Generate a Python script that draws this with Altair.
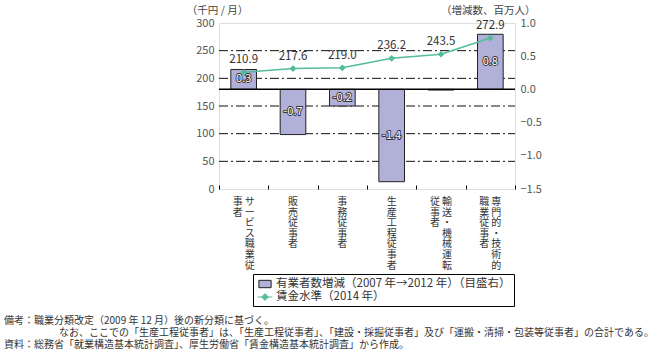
import altair as alt
import pandas as pd

FONT = "Noto Sans CJK JP"
BAR = "#b1b0d9"
TEAL = "#52bc9b"

categories = ["サービス職業従事者", "販売従事者", "事務従事者", "生産工程従事者",
              "輸送・機械運転従事者", "専門的・技術的職業従事者"]
change = [0.30, -0.68, -0.25, -1.39, -0.01, 0.83]
change_labels = ["0.3", "-0.7", "-0.2", "-1.4", "", "0.8"]
wage = [210.9, 217.6, 219.0, 236.2, 243.5, 272.9]
wage_labels = ["210.9", "217.6", "219.0", "236.2", "243.5", "272.9"]
# vertical category labels: first (right) column and second (left) column
col_first = ["サービス職業従", "販売従事者", "事務従事者", "生産工程従事者",
             "輸送・機械運転", "専門的・技術的"]
col_second = ["事者", "", "", "", "従事者", "職業従事者"]
series = ["有業者数増減（2007 年→2012 年）（目盛右）", "賃金水準（2014 年）"]
left_ticks = [0, 50, 100, 150, 200, 250, 300]
grid_values = [50, 100, 150, 200, 250]
right_ticks = [-1.5, -1.0, -0.5, 0.0, 0.5, 1.0]
notes = [
    "備考：職業分類改定（2009 年 12 月）後の新分類に基づく。",
    "なお、ここでの「生産工程従事者」は、「生産工程従事者」、「建設・採掘従事者」及び「運搬・清掃・包装等従事者」の合計である。",
    "資料：総務省「就業構造基本統計調査」、厚生労働省「賃金構造基本統計調査」から作成。",
]

W, H = 296, 166

df = pd.DataFrame({
    "cat": categories, "change": change, "clabel": change_labels,
    "wage": wage, "wlabel": wage_labels,
})

xenc = alt.X("cat:N", sort=categories,
             scale=alt.Scale(domain=categories, paddingInner=0, paddingOuter=0),
             axis=alt.Axis(labels=False, title=None, domain=False, ticks=True,
                           tickSize=4, offset=-4, tickBand="extent",
                           tickColor="black", grid=False))

yr_scale = alt.Scale(domain=[-1.5, 1.0], nice=False, zero=False)
yl_scale = alt.Scale(domain=[0, 300], nice=False, zero=False)

base = alt.Chart(df)

grid = alt.Chart(pd.DataFrame({"g": grid_values})).mark_rule(
    color="#111", strokeWidth=1, strokeDash=[9, 3, 2, 3]).encode(
    x=alt.value(0), x2=alt.value(W),
    y=alt.Y("g:Q", scale=yl_scale, axis=None))

bars = base.mark_bar(width={"band": 0.52}, fill=BAR, stroke="#222", strokeWidth=1).encode(
    x=xenc,
    y=alt.Y("change:Q", scale=yr_scale,
            axis=alt.Axis(orient="right", values=right_ticks, format=".1f",
                          grid=False, ticks=False, domain=False,
                          labelColor="#555", labelFontSize=11, labelPadding=5,
                          labelFont=FONT,
                          title="（増減数、百万人）", titleAngle=0, titleX=20,
                          titleY=-13, titleAlign="right", titleBaseline="middle",
                          titleFontWeight="normal", titleFontSize=10.5,
                          titleColor="#444", titleFont=FONT)),
)
zero_rule = base.mark_rule(color="black", strokeWidth=1).encode(
    x=alt.value(0), x2=alt.value(W),
    y=alt.Y(datum=0, type="quantitative", scale=yr_scale, axis=None)
)
blab_base = base.transform_calculate(mid="datum.change / 2")
blab_halo = blab_base.mark_text(fontSize=11, font=FONT, color="#333", stroke="#333",
                                strokeWidth=1.8, baseline="middle").encode(
    x=xenc, y=alt.Y("mid:Q", scale=yr_scale, axis=None), text="clabel:N")
blab = blab_base.mark_text(fontSize=11, font=FONT, color="white",
                           baseline="middle").encode(
    x=xenc, y=alt.Y("mid:Q", scale=yr_scale, axis=None), text="clabel:N")

yl = alt.Y("wage:Q", scale=yl_scale,
           axis=alt.Axis(orient="left", values=left_ticks, grid=False,
                         domain=False, ticks=False, labelColor="#555",
                         labelFontSize=11, labelPadding=5, labelFont=FONT,
                         title="（千円 / 月）", titleAngle=0, titleX=-2, titleY=-13,
                         titleAlign="center", titleBaseline="middle",
                         titleFontWeight="normal", titleFontSize=10.5,
                         titleColor="#444", titleFont=FONT))
line = base.mark_line(color=TEAL, strokeWidth=1.5).encode(x=xenc, y=yl)
pts = base.mark_point(shape="diamond", filled=True, color=TEAL, size=45,
                      opacity=1).encode(x=xenc, y=alt.Y("wage:Q", scale=yl_scale, axis=None))
wlab = base.mark_text(dy=-12, fontSize=11.5, font=FONT, color="#333").encode(
    x=xenc, y=alt.Y("wage:Q", scale=yl_scale, axis=None), text="wlabel:N")

# legend via empty layer
rect_path = "M-1,-0.6H1V0.6H-1Z"
dia_path = "M-1.2,0H1.2M0,-0.55L0.55,0L0,0.55L-0.55,0Z"
leg = alt.Legend(title=None, orient="none", legendX=34, legendY=251,
                 strokeColor="black", fillColor="white", padding=3,
                 labelFont=FONT, labelFontSize=11.5, labelColor="#333",
                 labelLimit=400, symbolSize=150, symbolStrokeWidth=1,
                 rowPadding=0, symbolOffset=2)
leg_df = pd.DataFrame({"series": series})
legend_layer = alt.Chart(leg_df).transform_filter("false").mark_point(
    filled=True, opacity=1).encode(
    color=alt.Color("series:N", scale=alt.Scale(domain=series, range=[BAR, TEAL]), legend=leg),
    shape=alt.Shape("series:N", scale=alt.Scale(domain=series, range=[rect_path, dia_path]), legend=leg),
    stroke=alt.Stroke("series:N", scale=alt.Scale(domain=series, range=["#222", TEAL]), legend=leg),
)

# vertical category labels
lab_df = pd.DataFrame({
    "cat": categories,
    "first": ["\n".join(list(s)) for s in col_first],
    "second": ["\n".join(list(s)) for s in col_second],
    "two": [1 if s else 0 for s in col_second],
})
vt = dict(fontSize=10, font=FONT, color="#333", baseline="top",
          lineBreak="\n", lineHeight=10.6)
lab_single = alt.Chart(lab_df).transform_filter("datum.two == 0").mark_text(**vt).encode(
    x=xenc, y=alt.value(H + 8), text="first:N")
lab_first = alt.Chart(lab_df).transform_filter("datum.two == 1").mark_text(dx=6, **vt).encode(
    x=xenc, y=alt.value(H + 8), text="first:N")
lab_second = alt.Chart(lab_df).transform_filter("datum.two == 1").mark_text(dx=-6, **vt).encode(
    x=xenc, y=alt.value(H + 8), text="second:N")

note_df = pd.DataFrame({"t": [0]})
nt = dict(fontSize=10, font=FONT, color="#333", baseline="middle", align="left")
note1 = alt.Chart(note_df).mark_text(**nt).encode(
    x=alt.value(-215), y=alt.value(298), text=alt.value(notes[0]))
note2 = alt.Chart(note_df).mark_text(**nt).encode(
    x=alt.value(-160), y=alt.value(310), text=alt.value(notes[1]))
note3 = alt.Chart(note_df).mark_text(**nt).encode(
    x=alt.value(-215), y=alt.value(322), text=alt.value(notes[2]))

chart = alt.layer(
    grid, bars, zero_rule, blab_halo, blab, line, pts, wlab,
    legend_layer, lab_single, lab_first, lab_second,
    note1, note2, note3,
).resolve_scale(y="independent").properties(
    width=W, height=H,
    autosize=alt.AutoSizeParams(type="none"),
    padding={"left": 219, "top": 23, "right": 140, "bottom": 164},
    background="white",
).configure_view(stroke="black", strokeWidth=1).configure(font=FONT)

chart.save("out.html", embed_options={"renderer": "svg", "actions": False})
